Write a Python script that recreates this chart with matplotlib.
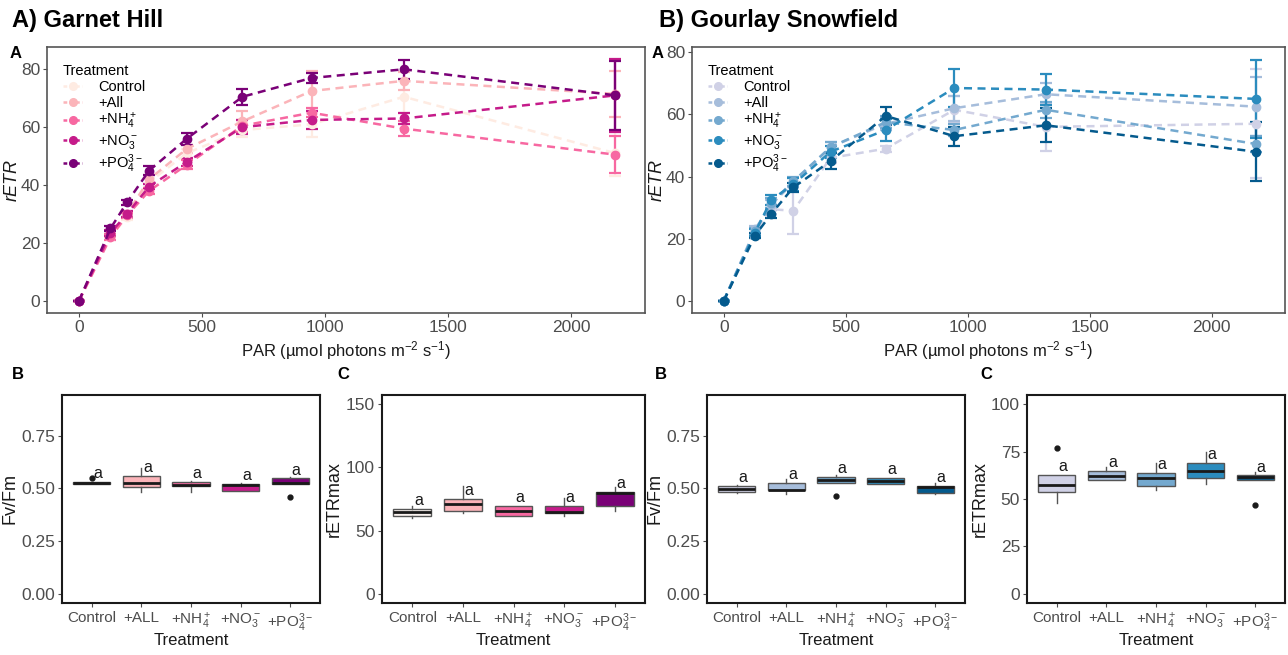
import matplotlib
matplotlib.use('Agg')
import matplotlib.pyplot as plt
from matplotlib import font_manager
from matplotlib.lines import Line2D

avail = {f.name for f in font_manager.fontManager.ttflist}
narrow = 'Liberation Sans Narrow' if 'Liberation Sans Narrow' in avail else 'Liberation Sans'
plt.rcParams['font.family'] = [narrow, 'DejaVu Sans']
plt.rcParams['mathtext.fontset'] = 'custom'
plt.rcParams['mathtext.rm'] = narrow
plt.rcParams['mathtext.it'] = narrow + ':italic'
plt.rcParams['mathtext.bf'] = narrow + ':bold'

# ---------------- data ----------------
par = [0, 128, 195, 285, 438, 664, 945, 1320, 2180]
line_labels = ['Control', '+All', '+NH$_4^+$', '+NO$_3^-$', '+PO$_4^{3-}$']
box_labels = ['Control', '+ALL', '+NH$_4^+$', '+NO$_3^-$', '+PO$_4^{3-}$']

gh_colors = ['#feebe2', '#fbb4b9', '#f768a1', '#c51b8a', '#7a0177']
gs_colors = ['#d0d1e6', '#a6bddb', '#74a9cf', '#2b8cbe', '#045a8d']

# Garnet Hill rETR means and SE
gh_control = [0, 22, 29, 41, 51, 59, 61, 70.5, 51]
gh_all = [0, 23, 30, 42, 52.5, 62, 72.5, 76, 71.5]
gh_nh4 = [0, 22, 29.5, 38, 47, 60.5, 65, 59.5, 50.5]
gh_no3 = [0, 23.5, 30, 39.5, 48, 60, 62.5, 63, 71]
gh_po4 = [0, 25, 34, 45, 56, 70.5, 77, 80, 71]
gh_control_se = [0, 1, 1, 1.5, 1.5, 2.5, 4.5, 5.5, 8]
gh_all_se = [0, 1, 1, 1.5, 1.5, 3.5, 7, 3, 8]
gh_nh4_se = [0, 1, 1, 1, 1.5, 2, 1.5, 2.5, 6.5]
gh_no3_se = [0, 1, 1, 1, 1.5, 2.5, 3, 2, 12.5]
gh_po4_se = [0, 1, 0.8, 1.5, 2, 2.8, 1.8, 3.2, 12]

# Gourlay Snowfield rETR means and SE
gs_control = [0, 22.5, 29.5, 29, 46, 49, 61.5, 56, 57]
gs_all = [0, 23, 31, 38, 49.5, 57, 62, 66.5, 62.5]
gs_nh4 = [0, 22.5, 31.5, 38.5, 49.5, 57.5, 55, 61.5, 50.5]
gs_no3 = [0, 22, 32.5, 37.5, 48, 55, 68.5, 68, 65]
gs_po4 = [0, 21, 28, 36.5, 45, 59.5, 53, 56.5, 48]
gs_control_se = [0, 1, 1.5, 7.5, 1.5, 1, 4.3, 7.8, 17.5]
gs_all_se = [0, 1, 1.5, 1.5, 1.5, 2, 4, 3.5, 9.5]
gs_nh4_se = [0, 1, 1.5, 1.5, 1.5, 2, 2, 2.5, 2.5]
gs_no3_se = [0, 1, 1.5, 2, 2, 3.5, 6, 5, 12.5]
gs_po4_se = [0, 0.8, 1.2, 1.5, 2.5, 3, 3, 5.5, 9.5]

# Boxplot summaries: Garnet Hill Fv/Fm
gh_fv_q1 = [0.520, 0.506, 0.511, 0.490, 0.520]
gh_fv_med = [0.526, 0.525, 0.519, 0.518, 0.524]
gh_fv_q3 = [0.532, 0.561, 0.533, 0.523, 0.548]
gh_fv_lo = [0.520, 0.483, 0.483, 0.487, 0.520]
gh_fv_hi = [0.532, 0.598, 0.535, 0.525, 0.553]
gh_fv_out = [[0.551], [], [], [], [0.460]]

# Garnet Hill rETRmax
gh_rm_q1 = [61.4, 65.8, 61.2, 64.0, 69.2]
gh_rm_med = [64.3, 71.0, 65.3, 64.6, 80.0]
gh_rm_q3 = [67.1, 74.8, 69.2, 69.7, 80.8]
gh_rm_lo = [59.8, 63.7, 61.2, 61.4, 65.8]
gh_rm_hi = [69.2, 85.7, 69.2, 75.4, 84.5]
gh_rm_out = [[], [], [], [], []]

# Gourlay Snowfield Fv/Fm
gs_fv_q1 = [0.485, 0.491, 0.527, 0.522, 0.480]
gs_fv_med = [0.499, 0.495, 0.542, 0.538, 0.506]
gs_fv_q3 = [0.511, 0.527, 0.555, 0.551, 0.513]
gs_fv_lo = [0.480, 0.472, 0.527, 0.522, 0.472]
gs_fv_hi = [0.515, 0.547, 0.562, 0.551, 0.525]
gs_fv_out = [[], [], [0.466], [], []]

# Gourlay Snowfield rETRmax
gs_rm_q1 = [53.9, 59.9, 56.8, 61.1, 60.3]
gs_rm_med = [57.5, 62.3, 61.1, 64.9, 61.7]
gs_rm_q3 = [62.9, 64.9, 63.9, 69.1, 62.5]
gs_rm_lo = [47.7, 59.9, 54.6, 58.0, 60.3]
gs_rm_hi = [62.9, 67.0, 69.3, 74.6, 64.4]
gs_rm_out = [[77.0], [], [], [], [46.8]]

sig_letters = ['a', 'a', 'a', 'a', 'a']

W, H = 1288, 655
fig = plt.figure(figsize=(W / 100, H / 100), dpi=100)


def rect(l, r, t, b):
    return [l / W, 1 - b / H, (r - l) / W, (b - t) / H]


TICKC = '#4d4d4d'


def style_axes(ax, framec, framew):
    for s in ax.spines.values():
        s.set_color(framec)
        s.set_linewidth(framew)
    ax.tick_params(colors=TICKC, labelcolor=TICKC, length=3, width=0.8, pad=2)


def line_panel(ax, means, ses, colors, ylim):
    handles = []
    for m, se, c, lab in zip(means, ses, colors, line_labels):
        ax.errorbar(par, m, yerr=se, color=c, lw=1.8, ls=(0, (3.2, 2.2)),
                    marker='o', ms=6, capsize=4.5, elinewidth=1.6, capthick=1.6)
        handles.append(Line2D([], [], color=c, lw=1.8, ls=(0, (1.5, 1.0)),
                              marker='o', ms=5.5, label=lab))
    ax.set_xlim(-130, 2300)
    ax.set_ylim(*ylim)
    ax.set_xticks([0, 500, 1000, 1500, 2000])
    ax.set_yticks([0, 20, 40, 60, 80])
    ax.tick_params(labelsize=12.5)
    ax.set_xlabel('PAR (µmol photons m$^{-2}$ s$^{-1}$)', fontsize=12, labelpad=3,
                  color='#1a1a1a')
    ax.set_ylabel('rETR', fontsize=13, style='italic', labelpad=0, color='#1a1a1a')
    style_axes(ax, '#555555', 1.2)
    leg = ax.legend(handles=handles, title='Treatment', loc='upper left',
                    bbox_to_anchor=(0.005, 0.985), frameon=False, fontsize=10.5,
                    title_fontsize=10.5, handlelength=1.3, handletextpad=1.1,
                    labelspacing=0.12, borderaxespad=0.5)
    leg._legend_box.align = 'left'


def box_panel(ax, q1, med, q3, lo, hi, out, colors, ylim, yticks, ylabel):
    stats = []
    for i in range(len(q1)):
        stats.append(dict(q1=q1[i], med=med[i], q3=q3[i], whislo=lo[i],
                          whishi=hi[i], fliers=out[i], label=box_labels[i]))
    bp = ax.bxp(stats, positions=range(1, len(q1) + 1), widths=0.75,
                patch_artist=True, showcaps=False,
                boxprops=dict(edgecolor='#555555', linewidth=1.0),
                medianprops=dict(color='#1a1a1a', linewidth=2.0),
                whiskerprops=dict(color='#555555', linewidth=1.0),
                flierprops=dict(marker='o', markerfacecolor='#1a1a1a',
                                markeredgecolor='#1a1a1a', markersize=3.5))
    for p, c in zip(bp['boxes'], colors):
        p.set_facecolor(c)
    for i, lt in enumerate(sig_letters):
        ax.annotate(lt, xy=(i + 1.12, q3[i]), xytext=(0, 6),
                    textcoords='offset points', ha='center', va='center',
                    fontsize=11.5, color='#1a1a1a')
    ax.set_xlim(0.4, 5.6)
    span = ylim[1] - ylim[0]
    ax.set_ylim(ylim[0] - 0.05 * span, ylim[1] + 0.05 * span)
    ax.set_yticks(yticks)
    style_axes(ax, '#1a1a1a', 1.5)
    ax.tick_params(axis='y', labelsize=12.5)
    ax.tick_params(axis='x', labelsize=11, pad=3)
    ax.set_xlabel('Treatment', fontsize=12, labelpad=-1, color='#1a1a1a')
    ax.set_ylabel(ylabel, fontsize=13, labelpad=2, color='#1a1a1a')


# Top panels
ax1 = fig.add_axes(rect(47, 645, 47, 313))
line_panel(ax1, [gh_control, gh_all, gh_nh4, gh_no3, gh_po4],
           [gh_control_se, gh_all_se, gh_nh4_se, gh_no3_se, gh_po4_se],
           gh_colors, (-4.2, 87.7))
ax2 = fig.add_axes(rect(692, 1285, 47, 313))
line_panel(ax2, [gs_control, gs_all, gs_nh4, gs_no3, gs_po4],
           [gs_control_se, gs_all_se, gs_nh4_se, gs_no3_se, gs_po4_se],
           gs_colors, (-3.9, 81.7))

# Bottom panels
ax3 = fig.add_axes(rect(62, 320, 395, 603))
box_panel(ax3, gh_fv_q1, gh_fv_med, gh_fv_q3, gh_fv_lo, gh_fv_hi, gh_fv_out,
          ['#f2ecea'] + gh_colors[1:], (0, 0.9), [0, 0.25, 0.5, 0.75], 'Fv/Fm')
ax3.set_yticklabels(['0.00', '0.25', '0.50', '0.75'])
ax4 = fig.add_axes(rect(382, 645, 395, 603))
box_panel(ax4, gh_rm_q1, gh_rm_med, gh_rm_q3, gh_rm_lo, gh_rm_hi, gh_rm_out,
          ['#fbf3f0'] + gh_colors[1:], (0, 150), [0, 50, 100, 150], 'rETRmax')
ax5 = fig.add_axes(rect(707, 965, 395, 603))
box_panel(ax5, gs_fv_q1, gs_fv_med, gs_fv_q3, gs_fv_lo, gs_fv_hi, gs_fv_out,
          gs_colors, (0, 0.9), [0, 0.25, 0.5, 0.75], 'Fv/Fm')
ax5.set_yticklabels(['0.00', '0.25', '0.50', '0.75'])
ax6 = fig.add_axes(rect(1027, 1285, 395, 603))
box_panel(ax6, gs_rm_q1, gs_rm_med, gs_rm_q3, gs_rm_lo, gs_rm_hi, gs_rm_out,
          gs_colors, (0, 100), [0, 25, 50, 75, 100], 'rETRmax')

# Titles and panel letters
fig.text(12 / W, 1 - 21 / H, 'A) Garnet Hill', fontsize=17, fontweight='bold',
         ha='left', va='center')
fig.text(659 / W, 1 - 21 / H, 'B) Gourlay Snowfield', fontsize=17, fontweight='bold',
         ha='left', va='center')
for x, y, t in [(10, 53, 'A'), (652, 53, 'A'), (12, 375, 'B'), (337, 375, 'C'),
                (655, 375, 'B'), (980, 375, 'C')]:
    fig.text(x / W, 1 - y / H, t, fontsize=12, fontweight='bold', ha='left', va='center')

fig.savefig('out.png', dpi=100)
